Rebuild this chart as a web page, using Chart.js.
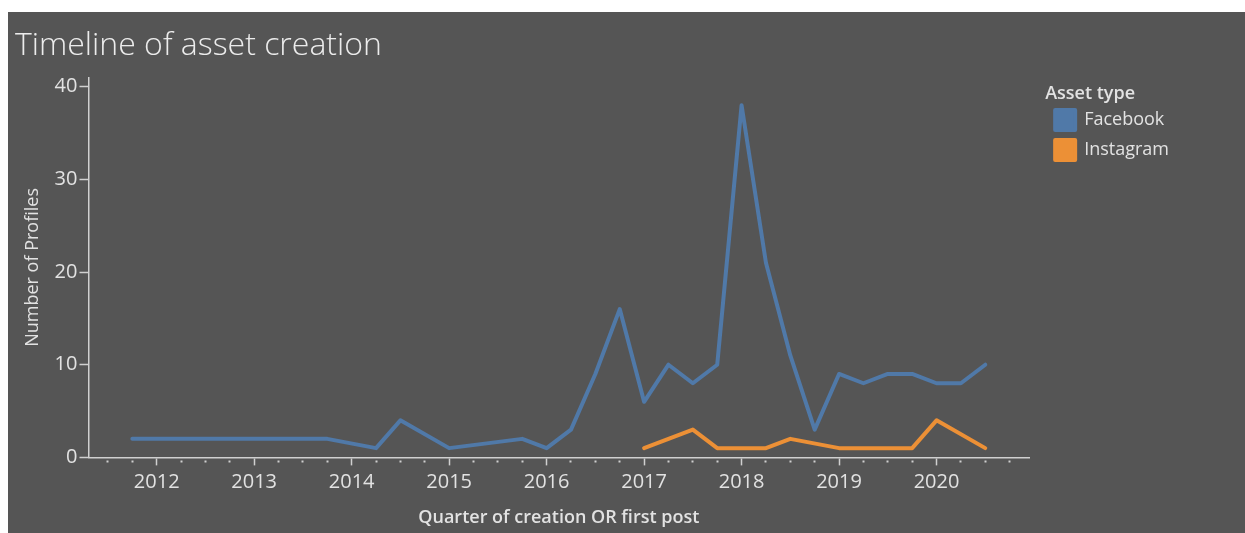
<!DOCTYPE html>
<html>
<head>
<meta charset="utf-8">
<script src="https://cdn.jsdelivr.net/npm/chart.js@4/dist/chart.umd.min.js"></script>
<style>
  body { margin: 0; background: #fff; }
  #wrap { position: absolute; left: 8px; top: 12px; width: 1237px; height: 521px; background: #555555; }
</style>
</head>
<body>
<div id="wrap"><canvas id="timeline"></canvas></div>
<script>
// quarter of creation OR first post
const quarters = [
  '2011 Q4',
  '2012 Q1', '2012 Q2', '2012 Q3', '2012 Q4',
  '2013 Q1', '2013 Q2', '2013 Q3', '2013 Q4',
  '2014 Q1', '2014 Q2', '2014 Q3', '2014 Q4',
  '2015 Q1', '2015 Q2', '2015 Q3', '2015 Q4',
  '2016 Q1', '2016 Q2', '2016 Q3', '2016 Q4',
  '2017 Q1', '2017 Q2', '2017 Q3', '2017 Q4',
  '2018 Q1', '2018 Q2', '2018 Q3', '2018 Q4',
  '2019 Q1', '2019 Q2', '2019 Q3', '2019 Q4',
  '2020 Q1', '2020 Q2', '2020 Q3'
];
// number of profiles per quarter (null = no profiles that quarter)
const facebook = [
  2,
  2, 2, 2, 2,
  2, 2, 2, 2,
  null, 1, 4, null,
  1, null, null, 2,
  1, 3, 9, 16,
  6, 10, 8, 10,
  38, 21, 11, 3,
  9, 8, 9, 9,
  8, 8, 10
];
const instagram = [
  null,
  null, null, null, null,
  null, null, null, null,
  null, null, null, null,
  null, null, null, null,
  null, null, null, null,
  1, 2, 3, 1,
  1, 1, 2, null,
  1, 1, 1, 1,
  4, null, 1
];
const yTicks = [0, 10, 20, 30, 40];

const textColor = '#e2e2e2';
const axisColor = '#d0d0d0';
const font = 'Open Sans';

function quarterToX(q) {
  const parts = q.split(' Q');
  return parseInt(parts[0]) + (parseInt(parts[1]) - 1) / 4;
}
function toPoints(values) {
  return quarters.map((q, i) => ({ x: quarterToX(q), y: values[i] }));
}
function isYear(v) {
  return Math.abs(v - Math.round(v)) < 1e-6;
}

const ctx = document.getElementById('timeline').getContext('2d');
const chart = new Chart(ctx, {
  type: 'line',
  data: {
    datasets: [{
      label: 'Facebook',
      data: toPoints(facebook),
      borderColor: '#5079a8',
      backgroundColor: '#5079a8',
      borderWidth: 4,
      pointRadius: 0,
      tension: 0,
      spanGaps: true,
      borderJoinStyle: 'round',
      borderCapStyle: 'round'
    }, {
      label: 'Instagram',
      data: toPoints(instagram),
      borderColor: '#ec9036',
      backgroundColor: '#ec9036',
      borderWidth: 4,
      pointRadius: 0,
      tension: 0,
      spanGaps: true,
      borderJoinStyle: 'round',
      borderCapStyle: 'round'
    }]
  },
  options: {
    responsive: true,
    maintainAspectRatio: false,
    animation: false,
    layout: { padding: { left: 7, right: 66, top: 0, bottom: 0 } },
    plugins: {
      title: {
        display: true,
        text: 'Timeline of asset creation',
        align: 'start',
        color: '#ececec',
        font: { family: font, size: 32, weight: '300' },
        padding: { top: 15, bottom: 12 }
      },
      legend: {
        position: 'right',
        align: 'start',
        title: {
          display: true,
          text: 'Asset type',
          position: 'start',
          color: textColor,
          font: { family: font, size: 18, weight: '600', lineHeight: 1 },
          padding: { top: 73, bottom: -3 }
        },
        labels: {
          color: textColor,
          font: { family: font, size: 18 },
          boxWidth: 20,
          boxHeight: 20,
          padding: 10
        }
      },
      tooltip: { enabled: false }
    },
    scales: {
      x: {
        type: 'linear',
        min: 2011.3,
        max: 2020.95,
        border: { color: axisColor, width: 1.5 },
        grid: {
          drawOnChartArea: false,
          drawTicks: true,
          tickLength: 8,
          tickWidth: c => isYear(c.tick.value) ? 1.5 : 2,
          tickColor: axisColor,
          tickBorderDash: c => isYear(c.tick.value) ? [] : [0, 2, 2, 20]
        },
        ticks: {
          stepSize: 0.25,
          autoSkip: false,
          maxRotation: 0,
          includeBounds: false,
          color: textColor,
          font: { family: font, size: 20 },
          padding: 5,
          callback: v => isYear(v) ? String(Math.round(v)) : ''
        },
        title: {
          display: true,
          text: 'Quarter of creation OR first post',
          color: textColor,
          font: { family: font, size: 18, weight: '600' },
          padding: { top: 8, bottom: 4 }
        }
      },
      y: {
        min: 0,
        max: 41,
        border: { color: axisColor, width: 1.5 },
        grid: {
          drawOnChartArea: false,
          drawTicks: true,
          tickLength: 9,
          tickColor: axisColor,
          tickWidth: 1.5
        },
        afterBuildTicks: axis => { axis.ticks = yTicks.map(v => ({ value: v })); },
        ticks: {
          color: textColor,
          font: { family: font, size: 20 },
          padding: 2
        },
        title: {
          display: true,
          text: 'Number of Profiles',
          color: textColor,
          font: { family: font, size: 18 },
          padding: { top: 7, bottom: 9 }
        }
      },
      // empty right-hand axis: keeps a gap between the plot and the legend
      gap: {
        type: 'linear',
        position: 'right',
        display: true,
        grid: { display: false },
        border: { display: false },
        ticks: { display: false },
        afterFit: s => { s.width = 16; }
      }
    }
  }
});
</script>
</body>
</html>
